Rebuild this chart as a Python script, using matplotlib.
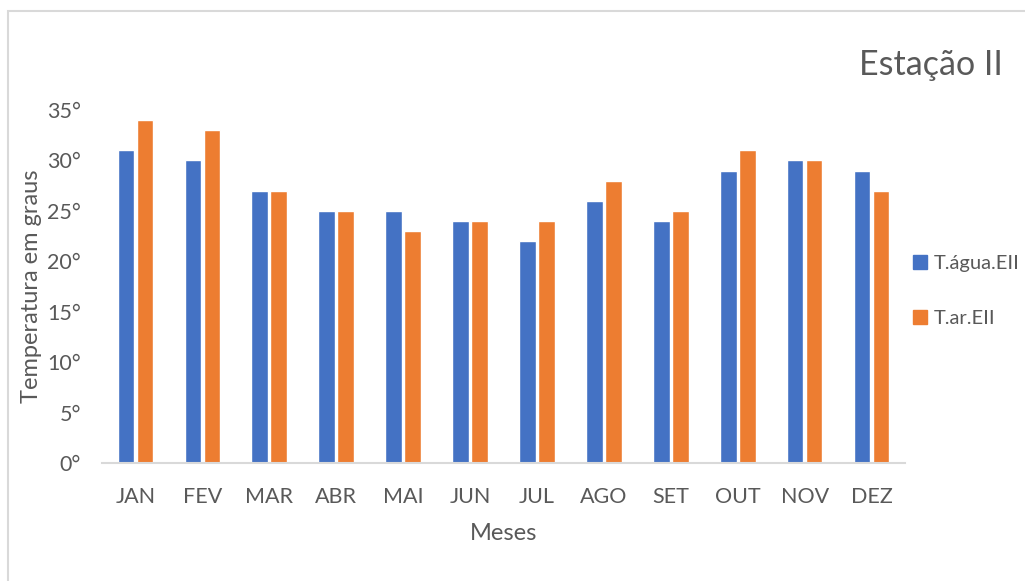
import matplotlib
matplotlib.use("Agg")
import matplotlib.pyplot as plt
import numpy as np
from matplotlib.patches import Rectangle

months = ["JAN", "FEV", "MAR", "ABR", "MAI", "JUN", "JUL", "AGO", "SET", "OUT", "NOV", "DEZ"]
agua = [31, 30, 27, 25, 25, 24, 22, 26, 24, 29, 30, 29]
ar = [34, 33, 27, 25, 23, 24, 24, 28, 25, 31, 30, 27]
yticks = [0, 5, 10, 15, 20, 25, 30, 35]
ytick_labels = ["0°", "5°", "10°", "15°", "20°", "25°", "30°", "35°"]

plt.rcParams['font.family'] = ['Lato', 'DejaVu Sans']
gray = "#595959"
blue = "#4472C4"
orange = "#ED7D31"

fig = plt.figure(figsize=(10.25, 5.81), dpi=100)
ax = fig.add_axes([102/1025, 1 - 463/581, 803/1025, (463 - 110)/581])

x = np.arange(len(months))
w = 0.25
off = 0.142
ax.bar(x - off, agua, w, color=blue, edgecolor="white", linewidth=1, label="T.água.EII")
ax.bar(x + off, ar, w, color=orange, edgecolor="white", linewidth=1, label="T.ar.EII")

ax.set_xlim(-0.5, len(months) - 0.5)
ax.set_ylim(0, 35)
ax.set_xticks(x)
ax.set_xticklabels(months)
ax.set_yticks(yticks)
ax.set_yticklabels(ytick_labels)
ax.tick_params(length=0, labelsize=15.5, labelcolor=gray)
ax.tick_params(axis="x", pad=17)
ax.tick_params(axis="y", pad=15)
for s in ["top", "right", "left"]:
    ax.spines[s].set_visible(False)
ax.spines["bottom"].set_color("#d9d9d9")
ax.spines["bottom"].set_linewidth(1.5)

ax.set_xlabel("Meses", fontsize=17, color=gray, labelpad=12)
ax.set_ylabel("Temperatura em graus", fontsize=17, color=gray, labelpad=4)

fig.text(1003/1025, 1 - 65/581, "Estação II", fontsize=24.5, color=gray,
         ha="right", va="center")

handles = [Rectangle((0, 0), 1, 1, color=blue), Rectangle((0, 0), 1, 1, color=orange)]
leg = fig.legend(handles, ["T.água.EII", "T.ar.EII"], loc="center left",
                 bbox_to_anchor=(895/1025, 1 - 291/581),
                 frameon=False, fontsize=14.5, labelcolor=gray,
                 handlelength=0.7, handleheight=0.7, handletextpad=0.3,
                 labelspacing=1.9)

fig.patches.append(Rectangle((8/1025, -0.01), 1.02, 1 - 11/581 + 0.01,
                             transform=fig.transFigure, fill=False,
                             edgecolor="#d9d9d9", linewidth=1.5))

fig.savefig("out.png", dpi=100)
